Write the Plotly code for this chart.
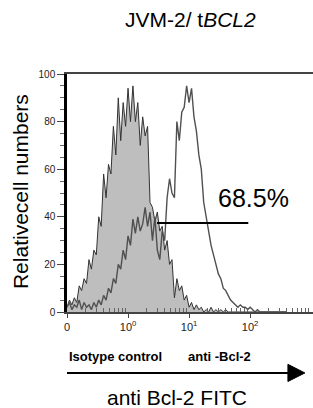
import numpy as np
import plotly.graph_objects as go

# log10 FITC channel (0 display at -1, 10^0 at 0, ...), bin step 0.04
log_fitc = np.round(np.arange(-1.0, 2.62, 0.04), 2)

isotype = [2, 5, 3, 6, 4, 11, 9, 14, 12, 22, 18, 26, 24, 40, 36, 58, 48, 62, 58, 78,
           66, 90, 72, 88, 78, 94, 80, 95, 80, 88, 70, 82, 74, 78, 46, 44, 38, 42, 34, 36,
           26, 30, 20, 22, 6, 14, 9, 11, 5, 7, 2, 4, 1, 3, 1, 2, 0, 1, 0, 2,
           0, 1, 0, 1, 0, 1, 0, 0, 0, 0, 0, 0, 0, 0, 0, 0, 0, 0, 0, 0,
           0, 0, 0, 0, 0, 0, 0, 0, 0, 0, 0]

anti_bcl2 = [2, 4, 1, 3, 2, 5, 1, 4, 2, 3, 1, 4, 2, 5, 3, 7, 5, 10, 8, 14,
             12, 20, 18, 26, 22, 32, 28, 39, 33, 40, 34, 37, 44, 36, 42, 30, 40, 26, 22, 34,
             30, 48, 56, 50, 48, 80, 72, 84, 86, 95, 88, 94, 82, 76, 66, 60, 46, 40, 34, 28,
             24, 20, 16, 14, 10, 9, 7, 5, 4, 3, 2, 3, 2, 2, 1, 2, 1, 0, 1, 0,
             0, 0, 0, 0, 0, 0, 0, 0, 0, 0, 0]

major_ticks = [-1, 0, 1, 2]
major_labels = ["0", "10<sup>0</sup>", "10<sup>1</sup>", "10<sup>2</sup>"]
gate_x = [0.475, 1.97]
gate_y = 37.4
gate_label = "68.5%"

minor_vals = [float(np.log10(k) + d) for d in (-1, 0, 1, 2) for k in range(2, 10)]

FONT = "Liberation Sans, Arial, sans-serif"

fig = go.Figure()
fig.add_trace(go.Scatter(x=log_fitc, y=isotype, mode="lines", fill="tozeroy",
                         fillcolor="#bebebe", line=dict(color="#333333", width=1),
                         name="Isotype control", showlegend=False))
fig.add_trace(go.Scatter(x=log_fitc, y=anti_bcl2, mode="lines",
                         line=dict(color="#505050", width=1.4),
                         name="anti -Bcl-2", showlegend=False))

fig.add_shape(type="line", x0=gate_x[0], x1=gate_x[1], y0=gate_y, y1=gate_y,
              line=dict(color="black", width=2))

# bottom arrow
fig.add_shape(type="line", xref="paper", yref="paper", x0=0.0, x1=0.92,
              y0=-0.256, y1=-0.256, line=dict(color="black", width=2))
fig.add_shape(type="path", xref="paper", yref="paper",
              path="M 0.898,-0.22 L 0.967,-0.256 L 0.898,-0.292 Z",
              fillcolor="black", line=dict(color="black", width=1))

fig.update_layout(
    width=313, height=408,
    margin=dict(l=67, r=0, t=74, b=96),
    paper_bgcolor="white", plot_bgcolor="white",
    font=dict(family=FONT, color="black"),
    xaxis=dict(range=[-1, 3.03], showgrid=False, zeroline=False,
               showline=True, linecolor="#444", linewidth=1.5, mirror=True,
               tickmode="array", tickvals=major_ticks, ticktext=major_labels,
               ticks="outside", ticklen=4, tickcolor="#444",
               tickfont=dict(size=11, color="#222"),
               minor=dict(tickmode="array", tickvals=minor_vals, ticks="inside",
                          ticklen=4, tickcolor="#666")),
    yaxis=dict(range=[0, 100], showgrid=False, zeroline=False,
               showline=True, linecolor="black", linewidth=2.5,
               tickmode="array", tickvals=[0, 20, 40, 60, 80, 100],
               ticks="outside", ticklen=7, tickcolor="#444",
               tickfont=dict(size=10, color="#222"),
               minor=dict(dtick=5, ticks="outside", ticklen=4, tickcolor="#666")),
    annotations=[
        dict(text="JVM-2/ t<i>BCL2</i>", xref="paper", yref="paper", x=0.5, y=1.227,
             showarrow=False, font=dict(size=21), xanchor="center", yanchor="middle"),
        dict(text="Relativecell numbers", xref="paper", yref="paper", x=-0.191, y=0.504,
             textangle=-90, showarrow=False, font=dict(size=21),
             xanchor="center", yanchor="middle"),
        dict(text=gate_label, x=1.44, y=48, xref="x", yref="y", showarrow=False,
             font=dict(size=25), xanchor="left", yanchor="middle"),
        dict(text="<b>Isotype control</b>", xref="paper", yref="paper", x=0.197, y=-0.189,
             showarrow=False, font=dict(size=13), xanchor="center", yanchor="middle"),
        dict(text="<b>anti -Bcl-2</b>", xref="paper", yref="paper", x=0.618, y=-0.189,
             showarrow=False, font=dict(size=13), xanchor="center", yanchor="middle"),
        dict(text="anti Bcl-2 FITC", xref="paper", yref="paper", x=0.447, y=-0.36,
             showarrow=False, font=dict(size=21), xanchor="center", yanchor="middle"),
    ],
)

fig.write_html("out.html", config={"displayModeBar": False},
               post_script="document.body.style.margin='0';document.body.style.overflow='hidden';")
